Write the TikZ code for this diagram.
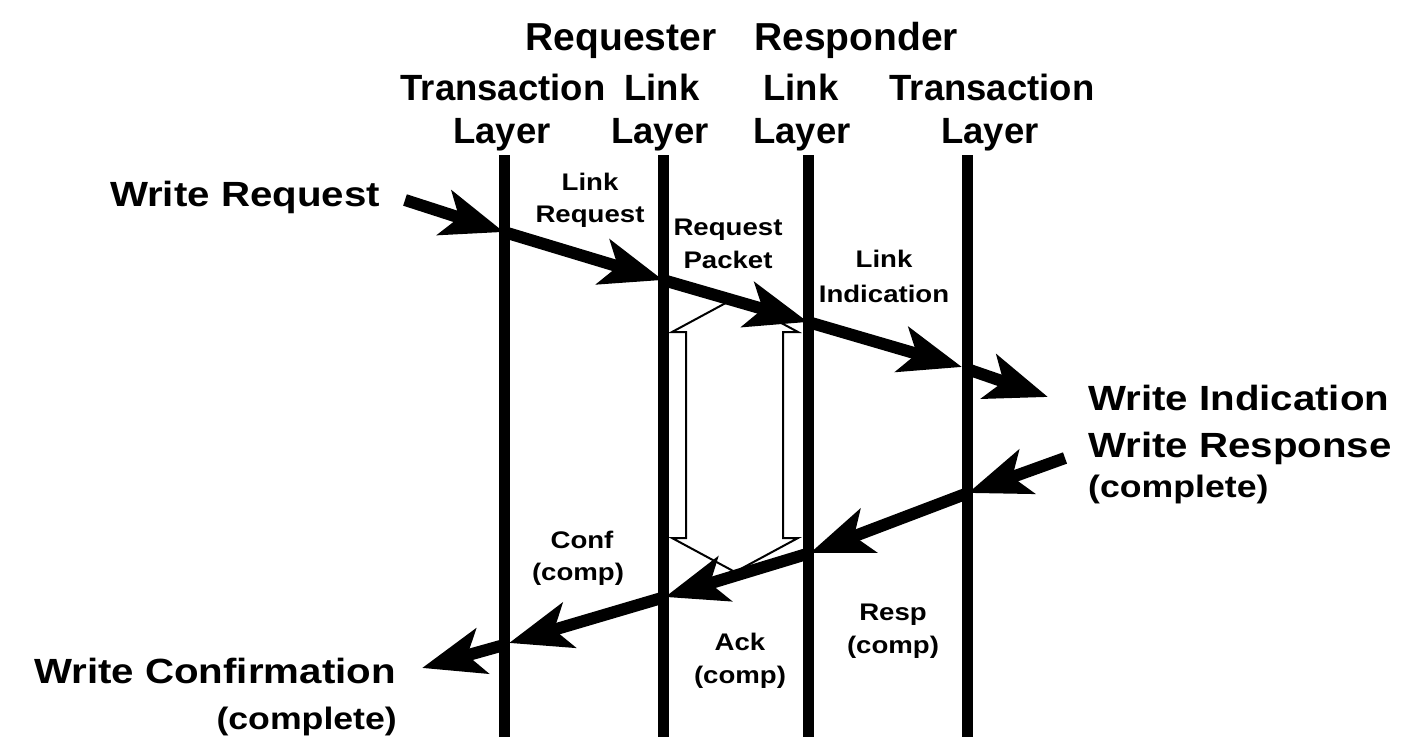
\documentclass[tikz,border=0pt]{standalone}
\usepackage{fontspec}
\setmainfont{Liberation Sans}
\newfontfamily\widefont{Liberation Sans}[FakeStretch=1.15]
\usetikzlibrary{arrows.meta}

\tikzset{
  heading/.style={font=\bfseries\fontsize{39}{44}\selectfont, anchor=base, inner sep=0pt},
  layername/.style={font=\bfseries\fontsize{36.5}{42}\selectfont, anchor=base, inner sep=0pt},
  primitive/.style={font=\widefont\bfseries\fontsize{35}{40}\selectfont, anchor=base, inner sep=0pt},
  msg/.style={font=\widefont\bfseries\fontsize{24}{28}\selectfont, anchor=base, inner sep=0pt},
  lifeline/.style={line width=11pt},
  flow/.style={line width=12pt, -{Stealth[length=62pt,width=46pt,inset=15pt]}},
  hollow/.style={draw=black, line width=2pt, fill=white, line join=miter},
}

\begin{document}
\begin{tikzpicture}[x=1pt, y=-1pt]
\useasboundingbox (0,0) rectangle (1412,737);

% lifelines
\coordinate (t1) at (504,155); \coordinate (u1) at (504,737);
\coordinate (t2) at (663,155); \coordinate (u2) at (663,737);
\coordinate (t3) at (808,155); \coordinate (u3) at (808,737);
\coordinate (t4) at (967,155); \coordinate (u4) at (967,737);
\draw[lifeline] (t1) -- (u1);
\draw[lifeline] (t2) -- (u2);
\draw[lifeline] (t3) -- (u3);
\draw[lifeline] (t4) -- (u4);

% headings
\node[heading] (req) at (621,50) {Requester};
\node[heading] (resp) at (856,50) {Responder};
\node[layername] (h1a) at (503,100) {Transaction};
\node[layername] (h2a) at (662,100) {Link};
\node[layername] (h3a) at (801,100) {Link};
\node[layername] (h4a) at (992,100) {Transaction};
\node[layername] (h1b) at (502,143) {Layer};
\node[layername] (h2b) at (660,143) {Layer};
\node[layername] (h3b) at (802,143) {Layer};
\node[layername] (h4b) at (990,143) {Layer};

% acknowledgement exchange between the link layers (hollow double arrow)
\coordinate (ha) at (735,298);
\coordinate (hb) at (735,572);
\draw[hollow] (ha) -- (798,332) -- (783,332) -- (783,538) -- (798,538) -- (hb)
  -- (672,538) -- (686,538) -- (686,332) -- (672,332) -- cycle;

% request path
\coordinate (a0) at (405,200);
\coordinate (a1) at (504,232);
\coordinate (a2) at (663,280);
\coordinate (a3) at (808,322);
\coordinate (a4) at (962,367);
\coordinate (a4b) at (967,369);
\coordinate (a5) at (1048,397);
\draw[flow] (a0) -- (a1);
\draw[flow] (a1) -- (a2);
\draw[flow] (a2) -- (a3);
\draw[flow] (a3) -- (a4);
\draw[flow] (a4b) -- (a5);

% response path
\coordinate (b0) at (1065,458);
\coordinate (b1) at (968,493);
\coordinate (b2) at (810,553);
\coordinate (b3) at (665,597);
\coordinate (b4) at (509,643);
\coordinate (b4b) at (504,645);
\coordinate (b5) at (422,668);
\draw[flow] (b0) -- (b1);
\draw[flow] (b1) -- (b2);
\draw[flow] (b2) -- (b3);
\draw[flow] (b3) -- (b4);
\draw[flow] (b4b) -- (b5);

% service primitives
\node[primitive] (wreq) at (245,206) {Write Request};
\node[primitive, anchor=base west] (wind) at (1088,410) {Write Indication};
\node[primitive, anchor=base west] (wrsp) at (1088,457) {Write Response};
\node[primitive, anchor=base west, font=\widefont\bfseries\fontsize{31}{36}\selectfont] (wrspc) at (1088,497) {(complete)};
\node[primitive, anchor=base east] (wconf) at (396,683) {Write Confirmation};
\node[primitive, anchor=base east, font=\widefont\bfseries\fontsize{31}{36}\selectfont] (wconfc) at (397,729) {(complete)};

% link messages
\node[msg] (lr1) at (590,190) {Link};
\node[msg] (lr2) at (590,222) {Request};
\node[msg] (rp1) at (728,235) {Request};
\node[msg] (rp2) at (728,268) {Packet};
\node[msg] (li1) at (884,267) {Link};
\node[msg] (li2) at (884,302) {Indication};
\node[msg] (cf1) at (582,548) {Conf};
\node[msg] (cf2) at (578,580) {(comp)};
\node[msg] (rs1) at (893,620) {Resp};
\node[msg] (rs2) at (893,653) {(comp)};
\node[msg] (ak1) at (740,650) {Ack};
\node[msg] (ak2) at (740,683) {(comp)};
\end{tikzpicture}
\end{document}
